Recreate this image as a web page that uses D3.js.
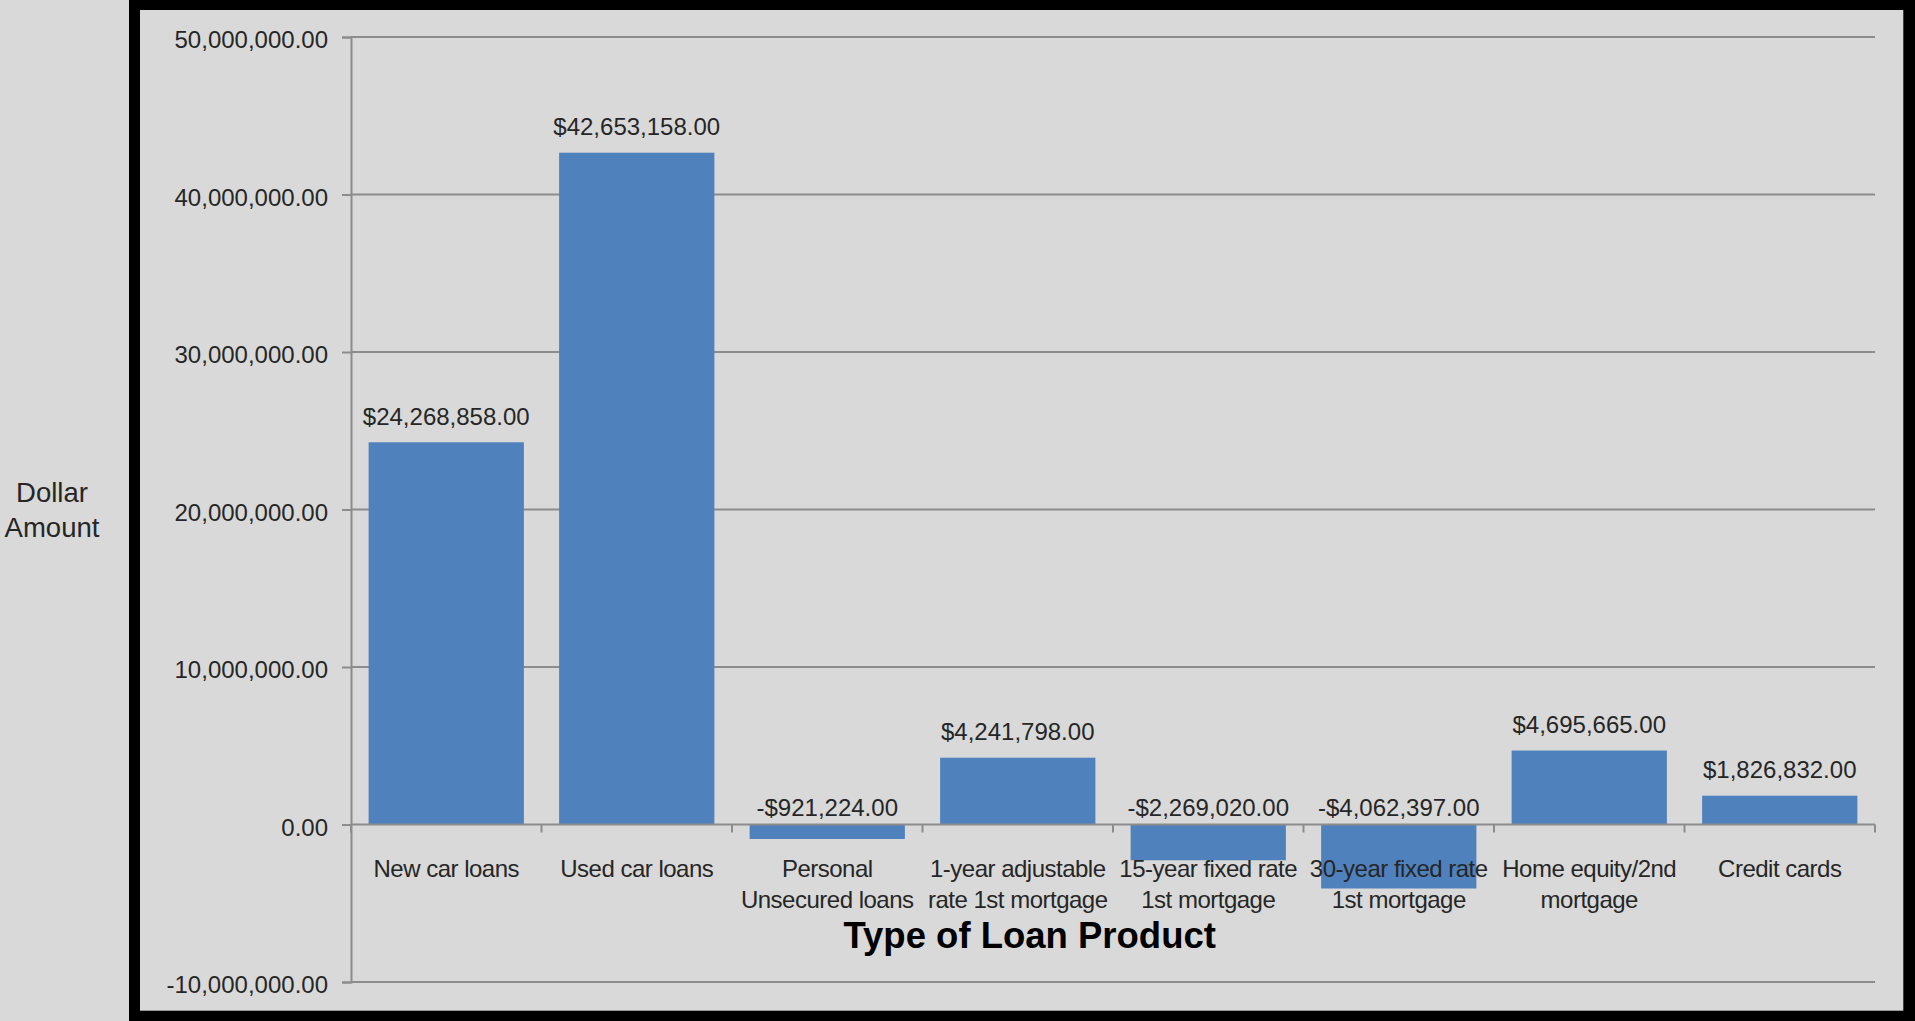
<!DOCTYPE html>
<html>
<head>
<meta charset="utf-8">
<script src="https://cdn.jsdelivr.net/npm/d3@7"></script>
<style>
  html, body { margin: 0; padding: 0; background: #d9d9d9; }
  svg { display: block; }
</style>
</head>
<body>
<svg id="chart" width="1915" height="1021"></svg>
<script>
const categories = [
  "New car loans",
  "Used car loans",
  "Personal Unsecured loans",
  "1-year adjustable rate 1st mortgage",
  "15-year fixed rate 1st mortgage",
  "30-year fixed rate 1st mortgage",
  "Home equity/2nd mortgage",
  "Credit cards"
];
const values = [24268858, 42653158, -921224, 4241798, -2269020, -4062397, 4695665, 1826832];
const yTicks = [-10000000, 0, 10000000, 20000000, 30000000, 40000000, 50000000];
const yAxisTitle = ["Dollar", "Amount"];
const xAxisTitle = "Type of Loan Product";

const svg = d3.select("#chart");
const W = 1915, H = 1021;
const textColor = "#262626";
const gridColor = "#8c8c8c";
const barColor = "#4f81bd";

// background and frame
svg.append("rect").attr("x", 0).attr("y", 0).attr("width", W).attr("height", H).attr("fill", "#d9d9d9");
svg.append("rect").attr("x", 129).attr("y", 0).attr("width", W - 129).attr("height", H).attr("fill", "#000");
svg.append("rect").attr("x", 140).attr("y", 10).attr("width", 1903.3 - 140).attr("height", 1010.7 - 10).attr("fill", "#d9d9d9");

const left = 351, right = 1875;
const x = d3.scaleBand().domain(categories).range([left, right]).paddingInner(0.185).paddingOuter(0.0925);
const y = d3.scaleLinear().domain([-10000000, 50000000]).range([982, 37]);

const locale = d3.formatLocale({ decimal: ".", thousands: ",", grouping: [3], currency: ["$", ""], minus: "-" });
const fmtTick = locale.format(",.2f");
const fmtMoney = v => (v < 0 ? "-$" : "$") + locale.format(",.2f")(Math.abs(v));

// gridlines
svg.append("g").selectAll("line").data(yTicks.filter(t => t !== 0)).join("line")
  .attr("x1", left).attr("x2", right)
  .attr("y1", d => y(d)).attr("y2", d => y(d))
  .attr("stroke", gridColor).attr("stroke-width", 2);

// y axis
const yAxis = svg.append("g").attr("transform", `translate(${left},0)`)
  .call(d3.axisLeft(y).tickValues(yTicks).tickFormat(fmtTick).tickSize(9).tickPadding(14));
yAxis.select(".domain").attr("stroke", gridColor).attr("stroke-width", 2);
yAxis.selectAll(".tick line").attr("stroke", gridColor).attr("stroke-width", 2);
yAxis.selectAll(".tick text")
  .attr("fill", textColor)
  .attr("font-family", "'Liberation Sans', Arial, sans-serif")
  .attr("font-size", "24px")
  .attr("dy", "10.5");

// bars
svg.append("g").selectAll("rect").data(values).join("rect")
  .attr("x", (d, i) => x(categories[i]))
  .attr("width", x.bandwidth())
  .attr("y", d => Math.min(y(d), y(0)))
  .attr("height", d => Math.abs(y(d) - y(0)))
  .attr("fill", barColor);

// x axis (zero line with ticks at band boundaries)
const bounds = categories.map(c => x(c) - x.step() * x.paddingInner() / 2).concat([right]);
svg.append("line")
  .attr("x1", left).attr("x2", right).attr("y1", y(0)).attr("y2", y(0))
  .attr("stroke", gridColor).attr("stroke-width", 2);
svg.append("g").selectAll("line").data(bounds).join("line")
  .attr("x1", d => d).attr("x2", d => d)
  .attr("y1", y(0)).attr("y2", y(0) + 8)
  .attr("stroke", gridColor).attr("stroke-width", 2);

// category labels with wrapping
const catG = svg.append("g")
  .attr("font-family", "'Liberation Sans', Arial, sans-serif")
  .attr("font-size", "24px")
  .attr("letter-spacing", "-0.5px")
  .attr("fill", textColor)
  .attr("text-anchor", "middle");
categories.forEach(c => {
  const cx = x(c) + x.bandwidth() / 2;
  const t = catG.append("text").attr("x", cx).attr("y", 876.7);
  const words = c.split(" ");
  let lines = [], line = [];
  const tmp = t.append("tspan");
  words.forEach(w => {
    const test = line.concat([w]).join(" ");
    tmp.text(test);
    if (tmp.node().getComputedTextLength() > x.step() && line.length) {
      lines.push(line.join(" "));
      line = [w];
    } else {
      line.push(w);
    }
  });
  lines.push(line.join(" "));
  tmp.remove();
  lines.forEach((l, i) => {
    t.append("tspan").attr("x", cx).attr("dy", i === 0 ? 0 : 31).text(l);
  });
});

// data labels
svg.append("g").selectAll("text").data(values).join("text")
  .attr("x", (d, i) => x(categories[i]) + x.bandwidth() / 2)
  .attr("y", d => d >= 0 ? y(d) - 17.5 : y(0) - 8.5)
  .attr("text-anchor", "middle")
  .attr("font-family", "'Liberation Sans', Arial, sans-serif")
  .attr("font-size", "24px")
  .attr("fill", textColor)
  .text(d => fmtMoney(d));

// axis titles
svg.append("text")
  .attr("x", 1029.7).attr("y", 948.3)
  .attr("text-anchor", "middle")
  .attr("font-family", "'Liberation Sans', Arial, sans-serif")
  .attr("font-weight", "bold")
  .attr("font-size", "36.5px")
  .attr("fill", "#000")
  .text(xAxisTitle);

const yt = svg.append("text")
  .attr("text-anchor", "middle")
  .attr("font-family", "'Liberation Sans', Arial, sans-serif")
  .attr("font-size", "27.5px")
  .attr("fill", textColor);
yAxisTitle.forEach((l, i) => {
  yt.append("tspan").attr("x", 52).attr("y", 501.7 + i * 35).text(l);
});
</script>
</body>
</html>
